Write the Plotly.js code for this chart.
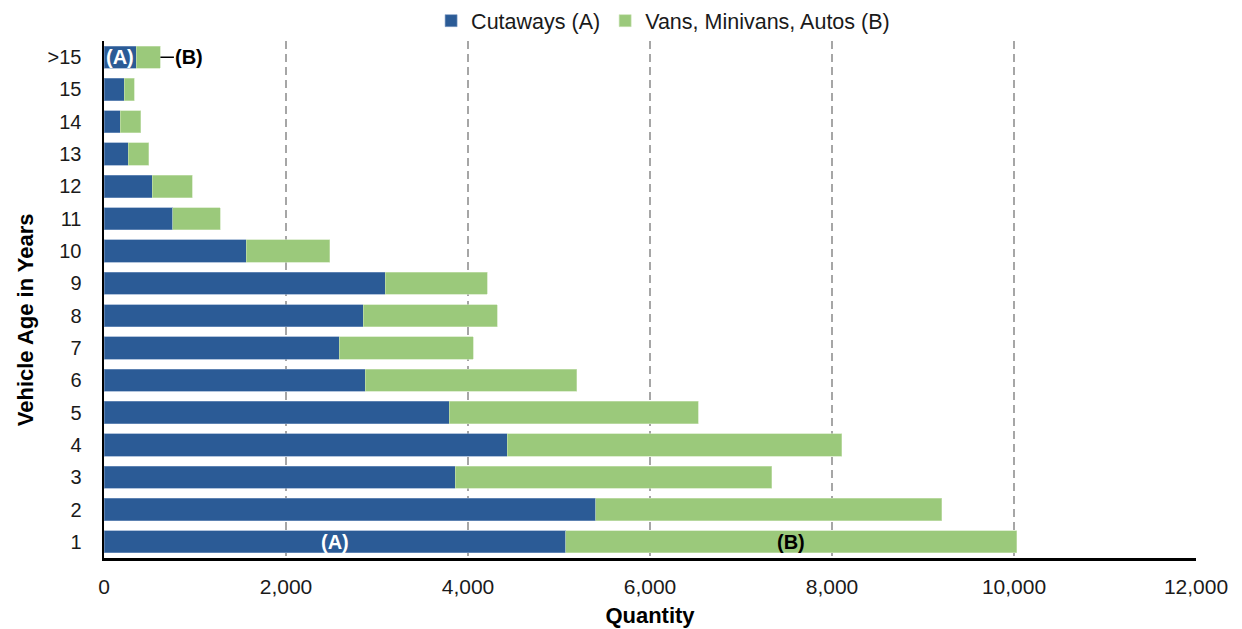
<!DOCTYPE html>
<html>
<head>
<meta charset="utf-8">
<script src="https://cdn.plot.ly/plotly-3.0.1.min.js"></script>
<style>html,body{margin:0;padding:0;background:#fff;}#chart{width:1242px;height:629px;}</style>
</head>
<body>
<div id="chart"></div>
<script>
const ageCategories = ['1','2','3','4','5','6','7','8','9','10','11','12','13','14','15','>15'];
const cutaways = [5075, 5405, 3860, 4430, 3795, 2870, 2585, 2850, 3090, 1565, 755, 530, 268, 180, 222, 356];
const vansMinivansAutos = [4955, 3800, 3480, 3675, 2735, 2325, 1470, 1470, 1120, 918, 522, 442, 222, 222, 112, 264];
const seriesNames = ['Cutaways (A)', 'Vans, Minivans, Autos (B)'];
const xTicks = [0, 2000, 4000, 6000, 8000, 10000, 12000];
const xTickLabels = ['0', '2,000', '4,000', '6,000', '8,000', '10,000', '12,000'];

const font = 'Liberation Sans, Arial, sans-serif';
const blue = '#2B5B96';
const green = '#9BC97B';

const traces = [
  {type:'bar', orientation:'h', name:seriesNames[0], y:ageCategories, x:cutaways,
   marker:{color:blue, line:{color:'#7f9cc4', width:0.6}}, hoverinfo:'x+y'},
  {type:'bar', orientation:'h', name:seriesNames[1], y:ageCategories, x:vansMinivansAutos,
   marker:{color:green, line:{color:'#c9e3b6', width:0.6}}, hoverinfo:'x+y'}
];

const lastIdx = ageCategories.length - 1;
const topTotal = cutaways[lastIdx] + vansMinivansAutos[lastIdx];

const layout = {
  width:1242, height:629,
  barmode:'stack', bargap:0.31,
  paper_bgcolor:'#fff', plot_bgcolor:'#fff',
  margin:{l:104, r:46, t:41, b:71, autoexpand:false},
  font:{family:font, color:'#1a1a1a', size:20},
  showlegend:true,
  legend:{orientation:'h', x:0.512, xanchor:'center', y:1.079, yanchor:'top', yref:'paper',
          font:{size:21.5, family:font, color:'#1a1a1a'}, traceorder:'normal',
          itemwidth:30, bgcolor:'rgba(0,0,0,0)'},
  xaxis:{range:[0,12000], tickvals:xTicks, ticktext:xTickLabels,
         showgrid:true, gridcolor:'#a6a6a6', griddash:'8px,5px', gridwidth:1.5,
         zeroline:false, showline:true, linecolor:'#000', linewidth:2.5,
         ticks:'', ticklabelstandoff:8, tickfont:{size:21, family:font, color:'#1a1a1a'},
         title:{text:'<b>Quantity</b>', font:{size:22, family:font, color:'#000'}, standoff:11}, fixedrange:true},
  yaxis:{type:'category', categoryorder:'array', categoryarray:ageCategories,
         showgrid:false, zeroline:false, showline:true, linecolor:'#000', linewidth:2.5,
         ticks:'', ticklabelstandoff:16, tickfont:{size:20, family:font, color:'#1a1a1a'},
         fixedrange:true},
  annotations:[
    {xref:'paper', yref:'paper', x:-0.0723, y:0.46, text:'<b>Vehicle Age in Years</b>', textangle:-90,
     showarrow:false, xanchor:'center', yanchor:'middle', font:{size:22, family:font, color:'#000'}},
    {x:cutaways[0]/2, y:0, text:'<b>(A)</b>', showarrow:false,
     xanchor:'center', font:{size:20, color:'#fff', family:font}},
    {x:cutaways[0] + vansMinivansAutos[0]/2, y:0, text:'<b>(B)</b>', showarrow:false,
     xanchor:'center', font:{size:20, color:'#000', family:font}},
    {x:cutaways[lastIdx]/2, y:lastIdx, text:'<b>(A)</b>', showarrow:false,
     xanchor:'center', font:{size:20, color:'#fff', family:font}},
    {x:topTotal, y:lastIdx, text:'<b>(B)</b>', showarrow:true, arrowhead:0,
     arrowwidth:1.5, arrowcolor:'#000', ax:29, ay:0, standoff:0,
     font:{size:20, color:'#000', family:font}}
  ]
};

Plotly.newPlot('chart', traces, layout, {displayModeBar:false, staticPlot:true});
</script>
</body>
</html>
